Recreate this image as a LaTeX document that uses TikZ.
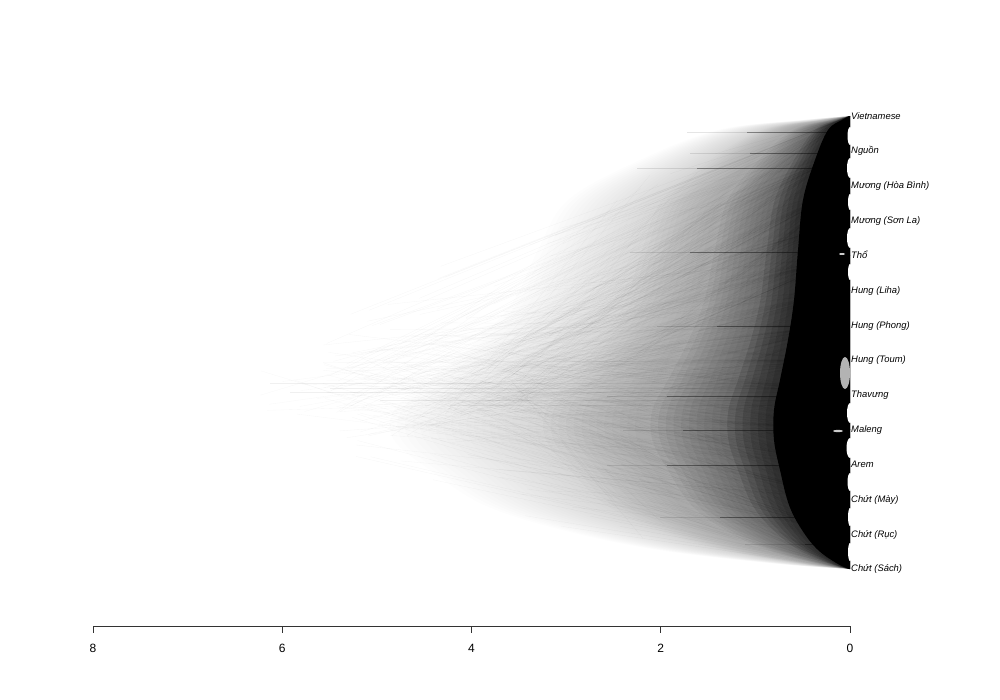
\documentclass[tikz,border=0pt]{standalone}
\usepackage{fontspec}
\setmainfont{Liberation Sans}
\newcommand{\fanlayer}[2]{%
  \fill[black,opacity=#2] plot[smooth,tension=0.6] coordinates {
    (850,116) ({850-#1*8},120) ({850-#1*22},130) ({850-#1*35},160) ({850-#1*47},200)
    ({850-#1*52},250) ({850-#1*56},300) ({850-#1*62},340) ({850-#1*70},380)
    ({850-#1*76},410) ({850-#1*76},440) ({850-#1*70},470) ({850-#1*61},505)
    ({850-#1*48},530) ({850-#1*32},550) ({850-#1*12},564) (850,569)} -- cycle;}
\begin{document}
\begin{tikzpicture}[x=1pt,y=-1pt,
  tiplabel/.style={anchor=mid west, inner sep=0pt, font=\itshape\fontsize{9.4}{10}\selectfont},
  ticklabel/.style={anchor=center, inner sep=0pt, font=\fontsize{12}{13}\selectfont},
  streak/.style={line width=0.5pt, black},
  bubble/.style={fill=white, draw=none}]
\useasboundingbox (0,0) rectangle (1000,700);
\fill[white] (0,0) rectangle (1000,700);
% graded fan
\foreach \s in {4.1,4.2,...,6.0}{\fanlayer{\s}{0.006}}
\foreach \s in {2.8,2.9,...,4.0}{\fanlayer{\s}{0.015}}
\foreach \s in {1.7,1.8,...,2.7}{\fanlayer{\s}{0.04}}
\foreach \s in {1.1,1.2,...,1.6}{\fanlayer{\s}{0.12}}
% random tree edges for texture
\pgfmathsetseed{11}
\foreach \i in {1,...,1500}{
  \pgfmathsetmacro{\k}{int(random(0,13))}
  \pgfmathsetmacro{\yk}{116+\k*34.85}
  \pgfmathsetmacro{\d}{8+520*rnd^3}
  \pgfmathsetmacro{\yy}{\yk+(388-\yk)*min(1,\d/650+0.4*rnd)+(rnd-0.5)*110*min(1,\d/300)}
  \draw[black, opacity=0.03, line width=0.35pt] ({850-\d},\yy) -- (850,\yk);
}
% deep root edges
\foreach \i in {1,...,140}{
  \pgfmathsetmacro{\dp}{330+260*rnd^2}
  \pgfmathsetmacro{\yp}{390+(rnd-0.5)*50}
  \pgfmathsetmacro{\dc}{60+180*rnd}
  \pgfmathsetmacro{\yc}{170+370*rnd}
  \draw[black, opacity=0.028, line width=0.35pt] ({850-\dp},\yp) -- ({850-\dc},\yc);
}
% horizontal streaks
\foreach \y/\a/\b in {132/747/837,153/750/827,168/697/830,252/690/813,326/717/803,396/667/793,430/683/790,465/667/807,517/720/810,544/805/830}{
  \draw[streak, opacity=0.1] (\a-60,\y) -- (\b,\y);
  \draw[streak, opacity=0.35] (\a,\y) -- (\b,\y);
}
\foreach \y/\a in {383/270,388/330,392/290,400/380,405/450}{
  \draw[black, line width=0.4pt, opacity=0.06] (\a,\y) -- (800,\y);
}
% dense core
\fanlayer{1.0}{1}
% white gaps between tips
\fill[bubble] (850,136) ellipse [x radius=2.5, y radius=9];
\fill[bubble] (850,168) ellipse [x radius=3, y radius=10];
\fill[bubble] (850,202) ellipse [x radius=2, y radius=8];
\fill[bubble] (850,238) ellipse [x radius=3, y radius=10];
\fill[bubble] (850,272) ellipse [x radius=2, y radius=8];
\fill[bubble, opacity=0.7] (845,373) ellipse [x radius=5, y radius=16];
\fill[bubble] (850,413) ellipse [x radius=3, y radius=10];
\fill[bubble] (850,448) ellipse [x radius=3.5, y radius=10];
\fill[bubble] (850,482) ellipse [x radius=2.5, y radius=9];
\fill[bubble] (850,517) ellipse [x radius=2, y radius=9];
\fill[bubble] (850,552) ellipse [x radius=2, y radius=9];
\fill[bubble, opacity=0.8] (842,254) ellipse [x radius=3, y radius=1];
\fill[bubble, opacity=0.8] (838,431) ellipse [x radius=5, y radius=1.2];
\draw[black, line width=2pt] (849,290) -- (849,359);
% tip labels
\node[tiplabel] (t1) at (851,116.5) {Vietnamese};
\node[tiplabel] (t2) at (851,151) {Nguồn};
\node[tiplabel] (t3) at (851,186) {Mương (Hòa Bình)};
\node[tiplabel] (t4) at (851,220.8) {Mương (Sơn La)};
\node[tiplabel] (t5) at (851,255.8) {Thổ};
\node[tiplabel] (t6) at (851,290.5) {Hung (Liha)};
\node[tiplabel] (t7) at (851,325.4) {Hung (Phong)};
\node[tiplabel] (t8) at (851,360.2) {Hung (Toum)};
\node[tiplabel] (t9) at (851,395.1) {Thavưng};
\node[tiplabel] (t10) at (851,430) {Maleng};
\node[tiplabel] (t11) at (851,464.8) {Arem};
\node[tiplabel] (t12) at (851,499.6) {Chứt (Mày)};
\node[tiplabel] (t13) at (851,534.5) {Chứt (Rục)};
\node[tiplabel] (t14) at (851,569.3) {Chứt (Sách)};
% axis
\draw[black!80, line width=0.8pt] (93,626) -- (850,626);
\foreach \x/\l in {93/8,282.25/6,471.5/4,660.75/2,850/0}{
  \draw[black!80, line width=0.8pt] (\x,626) -- (\x,633);
  \node[ticklabel] at (\x,648) {\l};
}
\end{tikzpicture}
\end{document}
